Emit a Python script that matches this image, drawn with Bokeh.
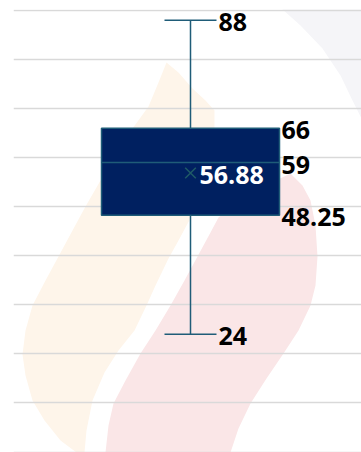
from bokeh.plotting import figure
from bokeh.models import Range1d, Grid, FixedTicker, ColumnDataSource
from bokeh.core.properties import value
from bokeh.embed import file_html
from bokeh.resources import INLINE

# ---- data ----
category = [1.0]
whisker_min = [24]
q1 = [48.25]
median = [59]
q3 = [66]
whisker_max = [88]
mean = [56.88]
grid_ticks = [0, 10, 20, 30, 40, 50, 60, 70, 80, 90]

# ---- decorative watermark outlines (pixel space) ----
wm_orange_x = [166, 178, 192, 205, 214, 214, 208, 200, 192, 178, 168, 155, 146, 134, 118, 104, 92, 86, 84, 76, 60, 44, 32, 25, 22, 25, 32, 45, 58, 72, 85, 100, 115, 132, 148, 158]
wm_orange_y = [62, 72, 88, 100, 110, 130, 160, 190, 214, 240, 258, 285, 305, 330, 350, 372, 400, 430, 452, 452, 440, 420, 400, 375, 354, 330, 305, 280, 256, 230, 206, 180, 155, 128, 106, 82]
wm_pink_x = [290, 302, 310, 315, 317, 315, 310, 298, 283, 266, 250, 238, 230, 105, 108, 113, 125, 140, 155, 170, 184, 197, 210, 218, 240, 265]
wm_pink_y = [173, 185, 200, 225, 256, 285, 305, 330, 353, 378, 403, 428, 452, 452, 425, 403, 380, 353, 330, 305, 280, 256, 232, 217, 200, 185]
wm_gray_x = [272, 361, 361, 352, 340, 322, 300]
wm_gray_y = [0, 0, 118, 100, 75, 48, 25]

BOX_FILL = "#002060"
LINE = "#1F5C78"
FONT = "Open Sans"
FS = "25px"
PX_PER_UNIT = 441.5 / 90

p = figure(width=361, height=452, output_backend="svg", toolbar_location=None,
           x_axis_type=None, y_axis_type=None,
           x_range=Range1d(0, 348 / 177),
           y_range=Range1d(-0.5 / PX_PER_UNIT, 90 + 1 / PX_PER_UNIT),
           min_border_left=13, min_border_right=0, min_border_top=9, min_border_bottom=0)
p.outline_line_color = None
p.background_fill_color = "white"
p.border_fill_color = "white"

p.extra_x_ranges = {"px": Range1d(13, 361)}
p.extra_y_ranges = {"px": Range1d(452, 9)}
p.patches(xs=[wm_orange_x, wm_pink_x, wm_gray_x], ys=[wm_orange_y, wm_pink_y, wm_gray_y],
          fill_color=["#FEF5EA", "#FAE6E7", "#F5F5F8"], line_color=None,
          x_range_name="px", y_range_name="px", level="image")

p.add_layout(Grid(dimension=1, ticker=FixedTicker(ticks=grid_ticks),
                  grid_line_color="#D9D9D9", grid_line_width=1.5))

half_box = 89 / 177
half_cap = 26 / 177

src = ColumnDataSource(dict(x=category, lo=whisker_min, q1=q1, med=median, q3=q3, hi=whisker_max, mean=mean,
                            bl=[c - half_box for c in category], br=[c + half_box for c in category],
                            cl=[c - half_cap for c in category], cr=[c + half_cap for c in category]))

# whiskers
p.segment(x0="x", y0="q3", x1="x", y1="hi", source=src, line_color=LINE, line_width=1.5)
p.segment(x0="x", y0="lo", x1="x", y1="q1", source=src, line_color=LINE, line_width=1.5)
p.segment(x0="cl", y0="hi", x1="cr", y1="hi", source=src, line_color=LINE, line_width=1.5)
p.segment(x0="cl", y0="lo", x1="cr", y1="lo", source=src, line_color=LINE, line_width=1.5)
# box
p.quad(left="bl", right="br", bottom="q1", top="q3", source=src,
       fill_color=BOX_FILL, line_color=LINE, line_width=1.5)
p.segment(x0="bl", y0="med", x1="br", y1="med", source=src, line_color=LINE, line_width=1.5)
# mean marker
p.scatter(x="x", y="mean", source=src, marker="x", size=15, line_color="#1F5A66", line_width=1.5)

# labels
def lab(xs, ys, texts, color, xoff):
    p.text(x=xs, y=ys, text=texts, text_font=value(FONT), text_font_style="bold",
           text_font_size=FS, text_color=color, text_baseline="middle", text_align="left",
           x_offset=xoff, y_offset=2)

def fmt(v):
    return ("%g" % v)

cr = [c + half_cap for c in category]
br = [c + half_box for c in category]
lab(cr + cr, whisker_max + whisker_min, [fmt(v) for v in whisker_max + whisker_min], "black", 2)
lab(br * 3, q3 + median + q1, [fmt(v) for v in q3 + median + q1], "black", 2)
lab(category, mean, ["%.2f" % v for v in mean], "white", 9)

open("out.html", "w").write(file_html(p, INLINE))
